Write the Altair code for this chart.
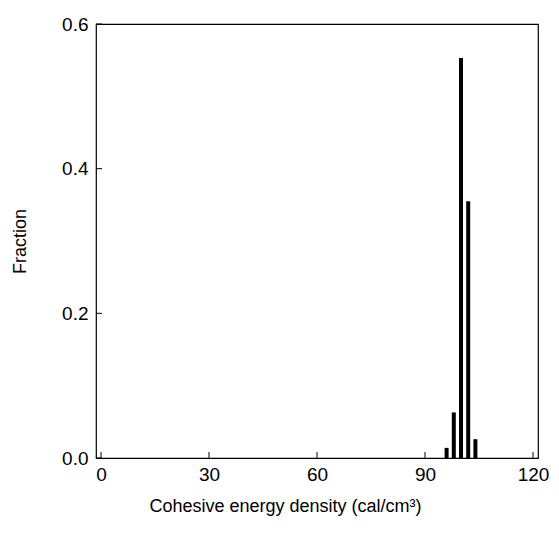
import altair as alt
import pandas as pd

ced = [96, 98, 100, 102, 104]
fraction = [0.014, 0.063, 0.553, 0.355, 0.026]
x_ticks = [0, 30, 60, 90, 120]
y_ticks = [0.0, 0.2, 0.4, 0.6]

W, H = 442, 434
FONT = "Liberation Sans"

df = pd.DataFrame({"ced": ced, "fraction": fraction})
xt = pd.DataFrame({"v": x_ticks})
yt = pd.DataFrame({"v": y_ticks})

xs = alt.Scale(domain=[0, 120], nice=False, zero=False)
ys = alt.Scale(domain=[0, 0.6], nice=False)

bars = alt.Chart(df).mark_bar(size=4, color="black").encode(
    x=alt.X("ced:Q", scale=xs,
            axis=alt.Axis(values=x_ticks, title="Cohesive energy density (cal/cm³)",
                          format="d", ticks=False, grid=False, domain=False,
                          labelFont=FONT, labelFontSize=19, labelColor="black",
                          labelPadding=7, titleFont=FONT, titleFontSize=18,
                          titleFontWeight="normal", titleColor="black", titlePadding=13,
                          titleX=189, titleAnchor="middle")),
    y=alt.Y("fraction:Q", scale=ys,
            axis=alt.Axis(values=y_ticks, title="Fraction", format=".1f",
                          ticks=False, grid=False, domain=False,
                          labelFont=FONT, labelFontSize=19, labelColor="black",
                          labelPadding=8, titleFont=FONT, titleFontSize=18,
                          titleFontWeight="normal", titleColor="black", titlePadding=32)),
)

xtick = alt.Chart(xt).mark_rule(color="black", strokeWidth=1).encode(
    x=alt.X("v:Q", scale=xs), y=alt.value(H), y2=alt.value(H - 6)
)
ytick = alt.Chart(yt).mark_rule(color="black", strokeWidth=1).encode(
    y=alt.Y("v:Q", scale=ys), x=alt.value(0), x2=alt.value(6)
)

chart = alt.layer(bars, xtick, ytick).properties(
    width=W, height=H,
    autosize=alt.AutoSizeParams(type="none"),
    padding={"left": 88, "top": 16, "right": 13, "bottom": 70},
).configure_view(stroke="black", strokeWidth=1.2)

chart.save("out.html", embed_options={"renderer": "svg", "actions": False})
